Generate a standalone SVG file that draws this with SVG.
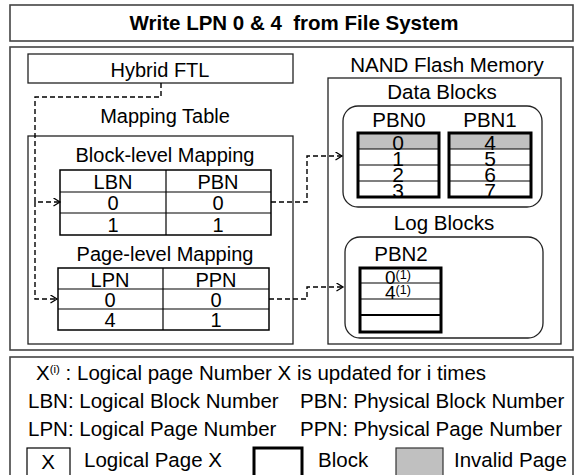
<svg xmlns="http://www.w3.org/2000/svg" width="574" height="475" viewBox="0 0 574 475">
<style>
text{font-family:"Liberation Sans",Arial,sans-serif;fill:#000}
.t{font-size:20.5px}
.s{font-size:20px}
.c{text-anchor:middle}
.d{font-size:21px;text-anchor:middle}
.frame{fill:#fff;stroke:#444;stroke-width:1.6}
.tb{fill:none;stroke:#000;stroke-width:1.5}
.blk{fill:none;stroke:#000;stroke-width:3}
.thin{stroke:#000;stroke-width:1.2}
.rr{fill:none;stroke:#222;stroke-width:1.3}
.dash{fill:none;stroke:#000;stroke-width:1.4;stroke-dasharray:5 3}
</style>
<defs>
<marker id="ah" markerWidth="9" markerHeight="9" refX="7.5" refY="4.5" orient="auto" markerUnits="userSpaceOnUse">
<path d="M1,0.5 L7.5,4.5 L1,8.5" fill="none" stroke="#000" stroke-width="1.3"/>
</marker>
</defs>
<rect width="574" height="475" fill="#fff"/>

<g id="title">
<rect class="frame" x="10" y="5" width="563" height="36"/>
<text x="294" y="30" class="c" style="font-size:20.5px;font-weight:bold">Write LPN 0 &amp; 4&#160; from File System</text>
</g>

<g id="main">
<rect class="frame" x="10" y="47" width="563" height="303"/>
</g>

<g id="hybrid-ftl">
<rect class="tb" x="28" y="54" width="265" height="29" style="stroke:#222;stroke-width:1.3"/>
<text x="160" y="77" class="s c">Hybrid FTL</text>
</g>

<g id="mapping-table">
<text x="165" y="123" class="s c">Mapping Table</text>
<rect class="rr" x="28" y="136" width="265" height="208"/>
</g>

<g id="block-level">
<text x="165" y="162" class="s c">Block-level Mapping</text>
<rect class="tb" x="60" y="170" width="211" height="65"/>
<line class="thin" x1="166" y1="170" x2="166" y2="235"/>
<line class="thin" x1="60" y1="192" x2="271" y2="192"/>
<line class="thin" x1="60" y1="213" x2="271" y2="213"/>
<text x="113" y="189" class="s c">LBN</text>
<text x="218" y="189" class="s c">PBN</text>
<text x="113" y="210" class="s c">0</text>
<text x="218" y="210" class="s c">0</text>
<text x="113" y="232" class="s c">1</text>
<text x="218" y="232" class="s c">1</text>
</g>

<g id="page-level">
<text x="165" y="261" class="s c">Page-level Mapping</text>
<rect class="tb" x="58" y="268" width="211" height="62"/>
<line class="thin" x1="163" y1="268" x2="163" y2="330"/>
<line class="thin" x1="58" y1="289" x2="269" y2="289"/>
<line class="thin" x1="58" y1="309" x2="269" y2="309"/>
<text x="110" y="287" class="s c">LPN</text>
<text x="216" y="287" class="s c">PPN</text>
<text x="110" y="307" class="s c">0</text>
<text x="216" y="307" class="s c">0</text>
<text x="110" y="327" class="s c">4</text>
<text x="216" y="327" class="s c">1</text>
</g>

<g id="nand">
<text x="447" y="72" class="t c">NAND Flash Memory</text>
<rect class="rr" x="328" y="78" width="233" height="266"/>
</g>

<g id="data-blocks">
<text x="442" y="99" class="t c">Data Blocks</text>
<rect class="rr" x="343" y="106" width="199" height="101" rx="15"/>
<text x="399" y="127" class="t c">PBN0</text>
<text x="490" y="127" class="t c">PBN1</text>
</g>

<g id="pbn0">
<rect x="358" y="133" width="81" height="16" fill="#c0c0c0"/>
<line class="thin" x1="358" y1="149" x2="439" y2="149"/>
<line class="thin" x1="358" y1="165" x2="439" y2="165"/>
<line class="thin" x1="358" y1="181" x2="439" y2="181"/>
<rect class="blk" x="358" y="133" width="81" height="64"/>
<text x="398" y="150" class="d">0</text>
<text x="398" y="166" class="d">1</text>
<text x="398" y="182" class="d">2</text>
<text x="398" y="198" class="d">3</text>
</g>

<g id="pbn1">
<rect x="449" y="133" width="82" height="16" fill="#c0c0c0"/>
<line class="thin" x1="449" y1="149" x2="531" y2="149"/>
<line class="thin" x1="449" y1="165" x2="531" y2="165"/>
<line class="thin" x1="449" y1="181" x2="531" y2="181"/>
<rect class="blk" x="449" y="133" width="82" height="64"/>
<text x="490" y="150" class="d">4</text>
<text x="490" y="166" class="d">5</text>
<text x="490" y="182" class="d">6</text>
<text x="490" y="198" class="d">7</text>
</g>

<g id="log-blocks">
<text x="444" y="230" class="t c">Log Blocks</text>
<rect class="rr" x="345" y="237" width="198" height="101" rx="15"/>
<text x="401" y="261" class="t c">PBN2</text>
</g>

<g id="pbn2">
<line class="thin" x1="360" y1="283" x2="441" y2="283"/>
<line class="thin" x1="360" y1="299" x2="441" y2="299"/>
<line x1="360" y1="315" x2="441" y2="315" stroke="#000" stroke-width="2.2"/>
<rect class="blk" x="360" y="268" width="81" height="64"/>
<text x="385" y="284" style="font-size:19px">0<tspan dy="-5" style="font-size:12.5px">(1)</tspan></text>
<text x="385" y="299" style="font-size:19px">4<tspan dy="-5" style="font-size:12.5px">(1)</tspan></text>
</g>

<g id="connectors">
<path class="dash" d="M161,83 V97 H35 V202 H60" marker-end="url(#ah)"/>
<path class="dash" d="M35,202 V299 H57" marker-end="url(#ah)"/>
<path class="dash" d="M271,202 H307 V156 H342" marker-end="url(#ah)"/>
<path class="dash" d="M269,299 H307 V287 H343" marker-end="url(#ah)"/>
</g>

<g id="legend">
<rect class="frame" x="10" y="357" width="563" height="125"/>
<text x="36" y="380" class="t">X<tspan dy="-7" style="font-size:11.5px">(i)</tspan><tspan dy="7"> : Logical page Number X is updated for i times</tspan></text>
<text x="28" y="408" class="t">LBN: Logical Block Number</text>
<text x="300" y="408" class="t">PBN: Physical Block Number</text>
<text x="28" y="436" class="t">LPN: Logical Page Number</text>
<text x="300" y="436" class="t">PPN: Physical Page Number</text>
<rect x="27" y="448" width="43" height="31" fill="#fff" stroke="#000" stroke-width="1.2"/>
<text x="48" y="469" class="t c">X</text>
<text x="84" y="467" class="t">Logical Page X</text>
<rect x="254" y="448" width="48" height="31" fill="#fff" stroke="#000" stroke-width="3"/>
<text x="318" y="467" class="t">Block</text>
<rect x="396" y="448" width="47" height="31" fill="#c0c0c0" stroke="#333" stroke-width="1.2"/>
<text x="454" y="467" class="t">Invalid Page</text>
</g>
</svg>
